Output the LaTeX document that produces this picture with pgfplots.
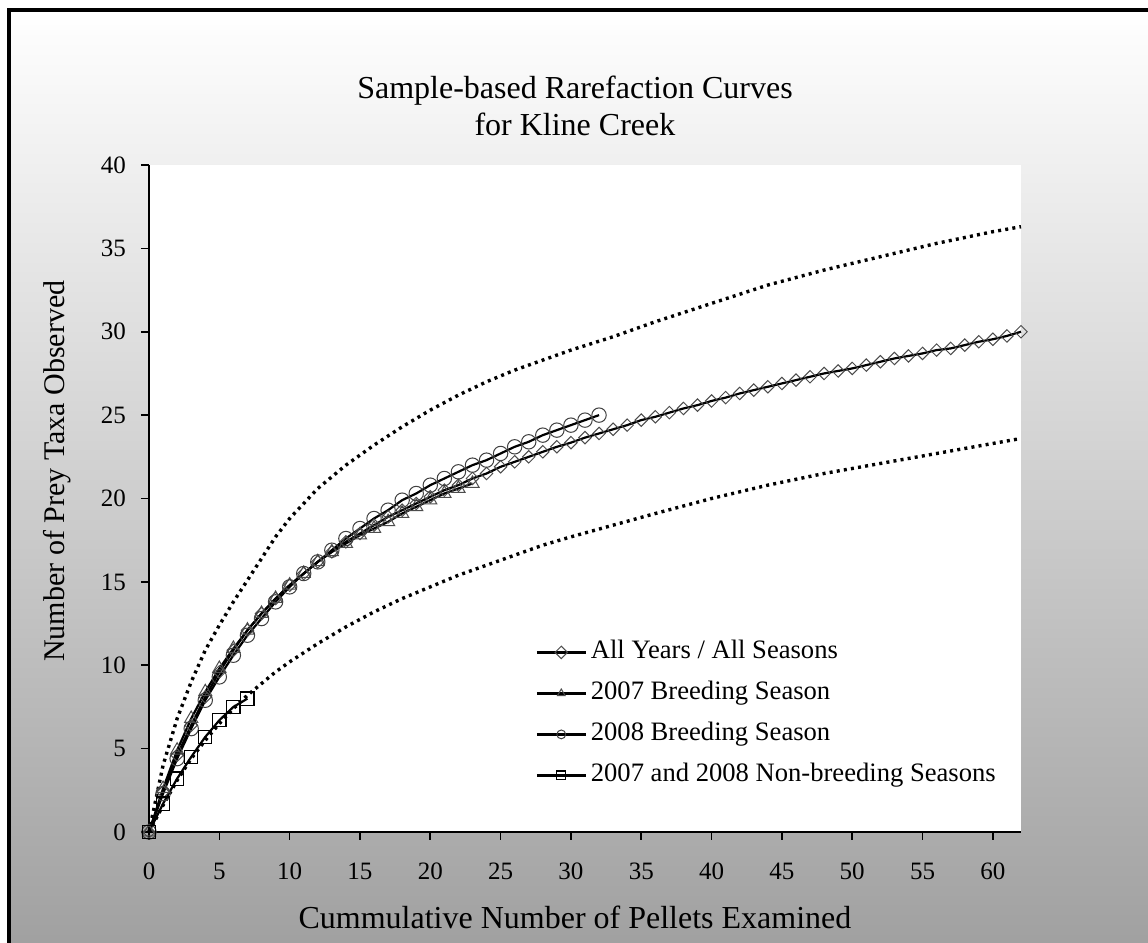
\documentclass[border=0pt]{standalone}
\usepackage{pgfplots}
\pgfplotsset{compat=1.18}
\usepackage{fontspec}
\setmainfont{Liberation Serif}

\pgfplotstableread{
x y
0 0
1 2.4
2 4.6
3 6.4
4 8.1
5 9.6
6 10.9
7 12.1
8 13.1
9 14.0
10 14.8
11 15.5
12 16.2
13 16.8
14 17.4
15 17.9
16 18.4
17 18.9
18 19.3
19 19.7
20 20.1
21 20.5
22 20.8
23 21.2
24 21.5
25 21.9
26 22.2
27 22.5
28 22.8
29 23.1
30 23.35
31 23.65
32 23.9
33 24.15
34 24.4
35 24.7
36 24.9
37 25.15
38 25.4
39 25.6
40 25.85
41 26.05
42 26.3
43 26.5
44 26.7
45 26.9
46 27.1
47 27.3
48 27.5
49 27.65
50 27.8
51 28.0
52 28.2
53 28.4
54 28.55
55 28.7
56 28.9
57 29.0
58 29.2
59 29.4
60 29.55
61 29.75
62 30.0
}\allyears

\pgfplotstableread{
x y
0 0
1 2.6
2 4.9
3 6.8
4 8.4
5 9.8
6 11.0
7 12.1
8 13.1
9 14.0
10 14.8
11 15.5
12 16.2
13 16.8
14 17.3
15 17.8
16 18.2
17 18.6
18 19.1
19 19.5
20 19.9
21 20.3
22 20.6
23 20.9
}\breedA

\pgfplotstableread{
x y
0 0
1 2.3
2 4.4
3 6.2
4 7.9
5 9.3
6 10.6
7 11.8
8 12.8
9 13.8
10 14.7
11 15.5
12 16.2
13 16.9
14 17.6
15 18.2
16 18.8
17 19.3
18 19.9
19 20.3
20 20.8
21 21.2
22 21.6
23 22.0
24 22.3
25 22.7
26 23.1
27 23.4
28 23.8
29 24.1
30 24.4
31 24.7
32 25.0
}\breedB

\pgfplotstableread{
x y
0 0
1 1.7
2 3.2
3 4.5
4 5.7
5 6.7
6 7.5
7 8.0
}\nonbreed

\pgfplotstableread{
x y
0 0
1 4.0
2 6.8
3 9.0
4 10.9
5 12.4
6 13.8
7 15.1
8 16.4
9 17.7
10 18.8
12 20.6
14 22.0
16 23.2
18 24.3
20 25.3
22 26.2
24 27.0
26 27.7
28 28.3
30 28.9
33 29.7
36 30.6
40 31.7
44 32.8
48 33.7
52 34.5
56 35.3
60 36.0
62 36.3
}\ciupper

\pgfplotstableread{
x y
0 0
1 1.6
2 3.1
3 4.4
4 5.5
5 6.5
6 7.4
7 8.2
8 8.9
9 9.6
10 10.2
12 11.3
14 12.3
16 13.2
18 14.0
20 14.7
22 15.4
24 16.0
26 16.6
28 17.2
30 17.7
33 18.4
36 19.1
40 20.0
44 20.8
48 21.5
52 22.1
56 22.7
60 23.3
62 23.6
}\cilower

\begin{document}
\begin{tikzpicture}
\fill[white] (0,0) rectangle (574pt,471.5pt);
\shade[top color=white, bottom color=black!37] (4.5pt,0pt) rectangle (590pt,466.5pt);
\draw[line width=1.6pt] (4.5pt,-2pt) -- (4.5pt,466.5pt) -- (590pt,466.5pt);
\begin{axis}[
  at={(74.5pt,55.5pt)}, anchor=south west,
  scale only axis, width=436pt, height=333.5pt,
  xmin=0, xmax=62, ymin=0, ymax=40,
  axis x line=bottom, axis y line=left,
  axis line style={-, line width=0.8pt},
  axis background/.style={fill=white},
  xtick={0,5,...,60}, ytick={0,5,...,40},
  tick align=outside, major tick length=4pt,
  tick style={line width=0.8pt, black},
  /pgf/number format/assume math mode=true,
  ticklabel style={font=\fontsize{12.5}{14}\selectfont},
  xticklabel shift=8pt,
  yticklabel shift=4pt,
  clip=false,
  title={Sample-based Rarefaction Curves\\for Kline Creek},
  title style={at={(axis description cs:0.4885,1.07)}, anchor=center, align=center, font=\fontsize{16}{18.5}\selectfont},
  xlabel={Cummulative Number of Pellets Examined},
  xlabel style={at={(axis description cs:0.4885,-0.1274)}, anchor=center, font=\fontsize{16}{18}\selectfont},
  ylabel={Number of Prey Taxa Observed},
  ylabel style={at={(axis description cs:-0.1055,0.541)}, anchor=center, font=\fontsize{15}{18}\selectfont},
  legend style={draw=none, fill=none, at={(axis description cs:0.443,0.2946)}, anchor=north west,
    inner sep=0pt, row sep=4pt, font=\fontsize{13.3}{15}\selectfont,
    nodes={inner sep=2pt, text height=9.5pt, text depth=3pt}},
  legend cell align=left,
  legend image code/.code={\draw[mark repeat=2,mark phase=2,#1,mark size=2.2pt] plot coordinates {(0pt,0pt) (12.25pt,0pt) (24.5pt,0pt)};},
]
\addplot[black, line width=1.7pt, dash pattern=on 1.5pt off 2.1pt, forget plot] table {\ciupper};
\addplot[black, line width=1.7pt, dash pattern=on 1.5pt off 2.1pt, forget plot] table {\cilower};
\addplot[black, line width=1.1pt, mark=square, mark size=2.2pt, mark options={rotate=45, solid, fill=white, draw=black!70, line width=0.5pt}] table {\allyears};
\addlegendentry{All Years / All Seasons}
\addplot[black, line width=1.1pt, mark=triangle, mark size=3.8pt, mark options={solid, fill=white, draw=black!70, line width=0.5pt}] table {\breedA};
\addlegendentry{2007 Breeding Season}
\addplot[black, line width=1.1pt, mark=o, mark size=3.6pt, mark options={solid, fill=white, draw=black!75, line width=0.5pt}] table {\breedB};
\addlegendentry{2008 Breeding Season}
\addplot[black, line width=1.1pt, mark=square, mark size=3.3pt, mark options={solid, fill=white, draw=black, line width=0.6pt}] table {\nonbreed};
\addlegendentry{2007 and 2008 Non-breeding Seasons}
\end{axis}
\pgfresetboundingbox
\useasboundingbox (0,0) rectangle (574pt,471.5pt);
\end{tikzpicture}
\end{document}
